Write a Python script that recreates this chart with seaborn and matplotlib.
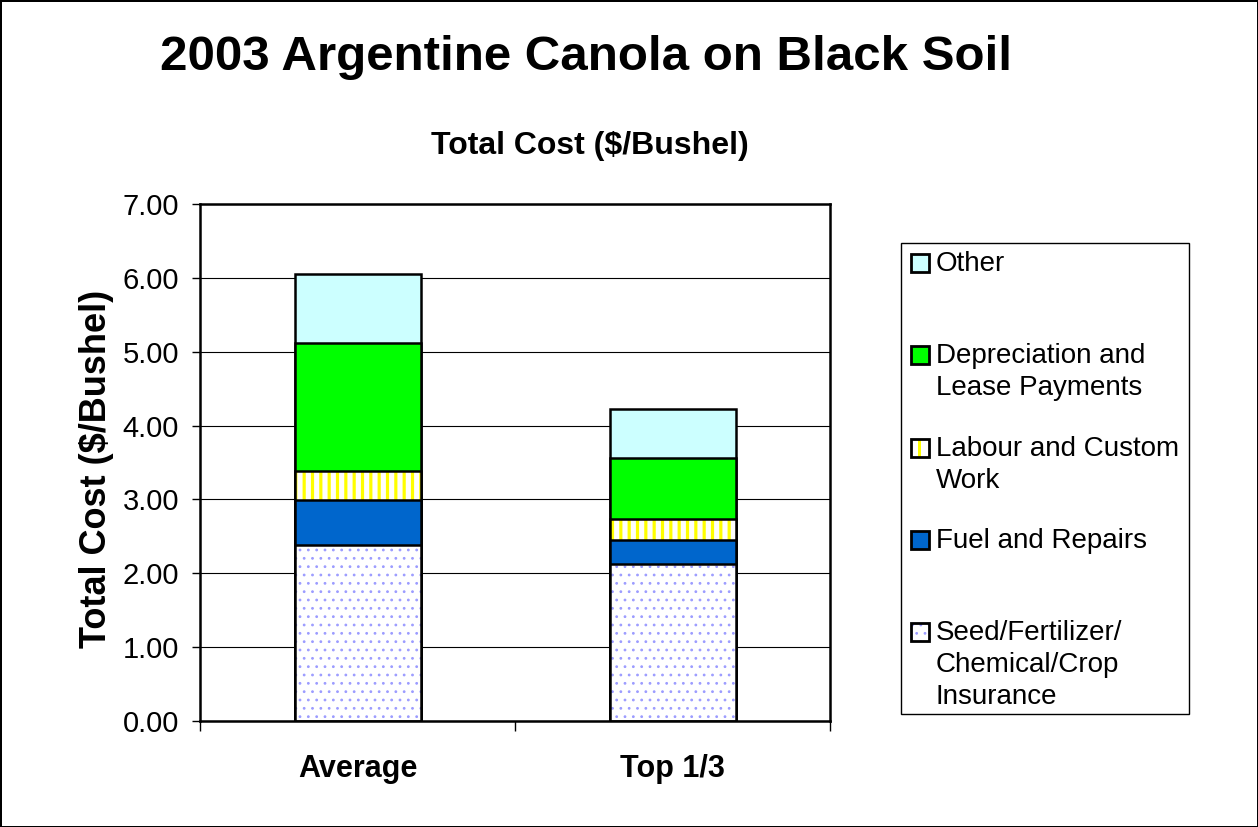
import matplotlib
matplotlib.use("Agg")
import matplotlib.pyplot as plt
from matplotlib.patches import Rectangle
import seaborn as sns

# --- data ($/bushel) ---
categories = ["Average", "Top 1/3"]
seed_fert = [2.38, 2.12]
fuel_repairs = [0.61, 0.33]
labour_custom = [0.40, 0.29]
depreciation_lease = [1.73, 0.82]
other = [0.93, 0.66]

legend_labels = [
    "Other",
    "Depreciation and\nLease Payments",
    "Labour and Custom\nWork",
    "Fuel and Repairs",
    "Seed/Fertilizer/\nChemical/Crop\nInsurance",
]

sns.set_style("white")
plt.rcParams["font.family"] = ["Liberation Sans", "DejaVu Sans"]
for k in ["text.color", "axes.labelcolor", "xtick.color", "ytick.color"]:
    plt.rcParams[k] = "black"

W, H = 1258, 827
fig = plt.figure(figsize=(W / 100, H / 100), dpi=100)
fig.patch.set_edgecolor("black")
fig.patch.set_linewidth(2)
ax = fig.add_axes([200 / W, (H - 721) / H, 630 / W, 517 / H])

# cumulative tops, drawn from the highest layer down so lower layers overlay
c1 = [a for a in seed_fert]
c2 = [a + b for a, b in zip(c1, fuel_repairs)]
c3 = [a + b for a, b in zip(c2, labour_custom)]
c4 = [a + b for a, b in zip(c3, depreciation_lease)]
c5 = [a + b for a, b in zip(c4, other)]


def layer(heights, face, edge="black", lw=1.8, hatch=None, hlw=1.0):
    plt.rcParams["hatch.linewidth"] = hlw
    n0 = len(ax.patches)
    sns.barplot(x=categories, y=heights, ax=ax, width=0.4, color="white",
                saturation=1, errorbar=None)
    for p in ax.patches[n0:]:
        p.set_facecolor(face)
        p.set_edgecolor(edge)
        p.set_linewidth(lw)
        p.set_hatch(hatch)
        if hasattr(p, "set_hatch_linewidth"):
            p.set_hatch_linewidth(hlw)


layer(c5, "#CCFFFF")
layer(c4, "#00FF00")
layer(c3, "white", lw=0)
layer(c3, "none", edge="#FFFF00", lw=0, hatch="||", hlw=2.3)
layer(c3, "none")
layer(c2, "#0066CC")
layer(c1, "white", lw=0)
layer(c1, "none", edge="#9C9CFF", lw=0, hatch="..", hlw=0.8)
layer(c1, "none")

ax.set_ylim(0, 7)
ax.set_xlim(-0.5, 1.5)
ax.set_yticks(range(0, 8))
ax.set_yticklabels([f"{v:.2f}" for v in range(0, 8)])
ax.yaxis.grid(True, color="black", linewidth=0.8)
ax.set_axisbelow(True)
ax.tick_params(axis="y", left=True, length=6, width=1, direction="out",
               labelsize=21, pad=9, colors="black")
ax.set_xticks([0, 1])
ax.set_xticklabels(categories, fontsize=22, fontweight="bold")
ax.set_xticks([-0.5, 0.5, 1.5], minor=True)
ax.tick_params(axis="x", which="major", length=0, pad=24)
ax.tick_params(axis="x", which="minor", bottom=True, length=7, width=1,
               direction="out", color="black")
for s in ax.spines.values():
    s.set_visible(True)
    s.set_color("black")
    s.set_linewidth(1.8)
ax.set_xlabel("")
ax.set_ylabel("Total Cost ($/Bushel)", fontsize=26, fontweight="bold",
              va="center")
ax.yaxis.set_label_coords((97 - 200) / 630, (721 - 469) / 517)

ax.set_title("Total Cost ($/Bushel)", fontsize=23, fontweight="bold",
             x=(590 - 200) / 630, pad=36)
fig.suptitle("2003 Argentine Canola on Black Soil", fontsize=35.5,
             fontweight="bold", x=586 / W, y=1 - 70 / H, va="baseline")

# --- legend box drawn in figure pixels ---
T = fig.transFigure
fig.add_artist(Rectangle((901 / W, 1 - 714 / H), 288 / W, 471 / H,
                         transform=T, facecolor="white", edgecolor="black",
                         linewidth=1))
faces = ["#CCFFFF", "#00FF00", "white", "#0066CC", "white"]
ys = [263, 355, 448, 540, 632]
for lab, fc, y in zip(legend_labels, faces, ys):
    fig.add_artist(Rectangle((911 / W, 1 - (y + 9) / H), 18 / W, 18 / H,
                             transform=T, facecolor=fc, edgecolor="none"))
    if lab.startswith("Labour"):
        fig.add_artist(Rectangle((918 / W, 1 - (y + 9) / H), 3 / W, 18 / H,
                                 transform=T, facecolor="#FFFF00",
                                 edgecolor="none"))
    if lab.startswith("Seed"):
        plt.rcParams["hatch.linewidth"] = 0.8
        fig.add_artist(Rectangle((911 / W, 1 - (y + 9) / H), 18 / W, 18 / H,
                                 transform=T, facecolor="none",
                                 edgecolor="#9C9CFF", linewidth=0, hatch=".."))
    fig.add_artist(Rectangle((911 / W, 1 - (y + 9) / H), 18 / W, 18 / H,
                             transform=T, facecolor="none", edgecolor="black",
                             linewidth=2))
    fig.text(936 / W, 1 - (y - 12) / H, lab, fontsize=20, va="top",
             ha="left", linespacing=1.3)

fig.savefig("out.png", dpi=100)
